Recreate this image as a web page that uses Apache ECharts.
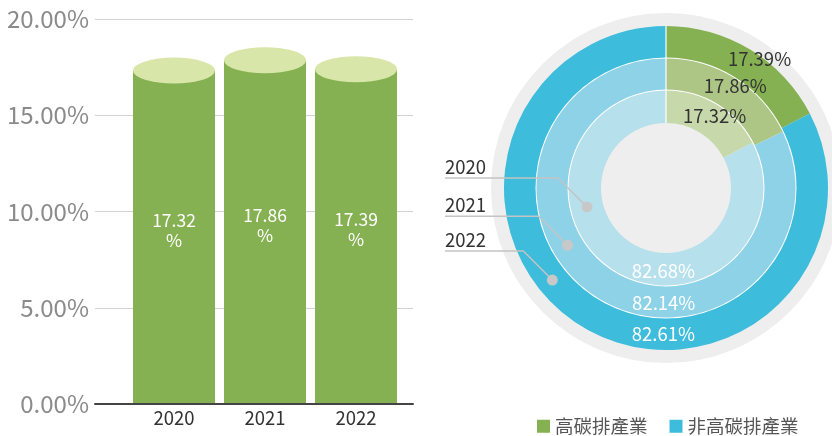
<!DOCTYPE html>
<html><head><meta charset="utf-8">
<script src="https://cdn.jsdelivr.net/npm/echarts@6/dist/echarts.min.js"></script>
<style>html,body{margin:0;padding:0;background:#fff}#c{width:832px;height:436px}</style>
</head><body><div id="c"></div>
<script>
const years = ['2020', '2021', '2022'];
const highCarbon = [17.32, 17.86, 17.39];
const nonHighCarbon = [82.68, 82.14, 82.61];
const seriesNames = ['高碳排產業', '非高碳排產業'];
const yTicks = [0, 5, 10, 15, 20];

const FONT = '"Noto Sans CJK TC", "Noto Sans", sans-serif';
const center = [666, 188];
const ringRadii = [[65, 97.5], [98.5, 129.5], [130.5, 162]];
const ringColors = [['#c7d9aa', '#b7e0ed'], ['#adc686', '#8ed2e8'], ['#86b152', '#3dbcdc']];
const labelOffsets = [[[5, 0], [41, 10.5]], [[7, -3], [60, 15.5]], [[16, -1.5], [75, 18]]];
const leaderAngles = [166.5, 149.8, 141]; // degrees, screen coords from +x

const chart = echarts.init(document.getElementById('c'), null, {renderer: 'canvas'});

const pies = years.map((y, i) => ({
  type: 'pie', name: y, center: center, radius: ringRadii[i], z: 3,
  silent: true, startAngle: 90, clockwise: true,
  label: {show: true, position: 'inside', fontFamily: FONT, fontSize: 18.5,
    formatter: p => p.value.toFixed(2) + '%'},
  labelLine: {show: false},
  data: [
    {name: seriesNames[0], value: highCarbon[i], itemStyle: {color: ringColors[i][0]},
      label: {color: '#333', offset: labelOffsets[i][0]}},
    {name: seriesNames[1], value: nonHighCarbon[i], itemStyle: {color: ringColors[i][1]},
      label: {color: '#fff', offset: labelOffsets[i][1]}}
  ]
}));

// leader lines computed from ring geometry
const graphics = [];
years.forEach((y, i) => {
  const rm = (ringRadii[i][0] + ringRadii[i][1]) / 2;
  const a = leaderAngles[i] * Math.PI / 180;
  const dx = center[0] + rm * Math.cos(a), dy = center[1] + rm * Math.sin(a);
  const ex = dx - 29, ey = dy - 29;
  graphics.push({type: 'polyline', z: 10, silent: true,
    shape: {points: [[445, ey], [ex, ey], [dx, dy]]},
    style: {stroke: '#c4c4c4', lineWidth: 1.5, fill: null}});
  graphics.push({type: 'circle', z: 10, silent: true,
    shape: {cx: dx, cy: dy, r: 5.5}, style: {fill: '#c8c8c8'}});
  graphics.push({type: 'text', z: 10, silent: true, x: 445, y: ey - 2,
    style: {text: y, fill: '#333', font: '18.5px ' + FONT, textAlign: 'left', textVerticalAlign: 'bottom'}});
});
// white radial separator at 12 o'clock
graphics.push({type: 'line', z: 5, silent: true,
  shape: {x1: center[0], y1: center[1] - ringRadii[0][0], x2: center[0], y2: center[1] - ringRadii[2][1]},
  style: {stroke: '#fff', lineWidth: 1.2}});

chart.setOption({
  animation: false,
  textStyle: {fontFamily: FONT},
  grid: [
    {left: 95, right: 419, top: 19, bottom: 32},
    {left: 128.5, width: 273, top: 19, bottom: 32}
  ],
  xAxis: [
    {type: 'category', gridIndex: 0, data: [''], axisLabel: {show: false}, axisTick: {show: false},
      axisLine: {lineStyle: {color: '#444', width: 2}}, z: 4},
    {type: 'category', gridIndex: 1, data: years, axisTick: {show: false}, axisLine: {show: false},
      axisLabel: {fontSize: 18.5, color: '#333', margin: 5, fontFamily: FONT}}
  ],
  yAxis: [
    {type: 'value', gridIndex: 0, min: 0, max: 20, interval: 5,
      axisLabel: {fontSize: 24, color: '#8a8a8a', margin: 6, fontFamily: FONT,
        formatter: v => yTicks.indexOf(v) >= 0 ? v.toFixed(2) + '%' : ''},
      splitLine: {lineStyle: {color: '#d3d3d3', width: 1}}, axisLine: {show: false}, axisTick: {show: false}},
    {type: 'value', gridIndex: 1, min: 0, max: 20, interval: 5, show: false, splitLine: {show: false}}
  ],
  legend: {
    left: 532, top: 412, itemWidth: 13, itemHeight: 13, itemGap: 22, icon: 'rect',
    textStyle: {fontSize: 18.5, color: '#555', fontFamily: FONT},
    selectedMode: false,
    data: [
      {name: seriesNames[0], itemStyle: {color: ringColors[2][0]}},
      {name: seriesNames[1], itemStyle: {color: ringColors[2][1]}}
    ]
  },
  graphic: graphics,
  series: [
    {type: 'bar', xAxisIndex: 1, yAxisIndex: 1, data: highCarbon, barWidth: 82, silent: true,
      itemStyle: {color: '#86b152'},
      label: {show: true, position: 'inside', offset: [0, -7], color: '#fff', fontSize: 17.5, lineHeight: 20,
        fontFamily: FONT, formatter: p => p.value.toFixed(2) + '\n%'}},
    {type: 'scatter', xAxisIndex: 1, yAxisIndex: 1, data: highCarbon, symbol: 'circle',
      symbolSize: [82, 26], silent: true, z: 3, itemStyle: {color: '#d8e6aa', opacity: 1}},
    {type: 'pie', center: center, radius: [0, 175], silent: true, z: 1, label: {show: false},
      labelLine: {show: false}, data: [{value: 1, name: 'bg', itemStyle: {color: '#eeeeee'}}]},
    {type: 'pie', center: center, radius: [97, 131], silent: true, z: 2, label: {show: false},
      labelLine: {show: false}, data: [{value: 1, name: 'gap', itemStyle: {color: '#ffffff'}}]},
    ...pies
  ]
});
</script></body></html>
